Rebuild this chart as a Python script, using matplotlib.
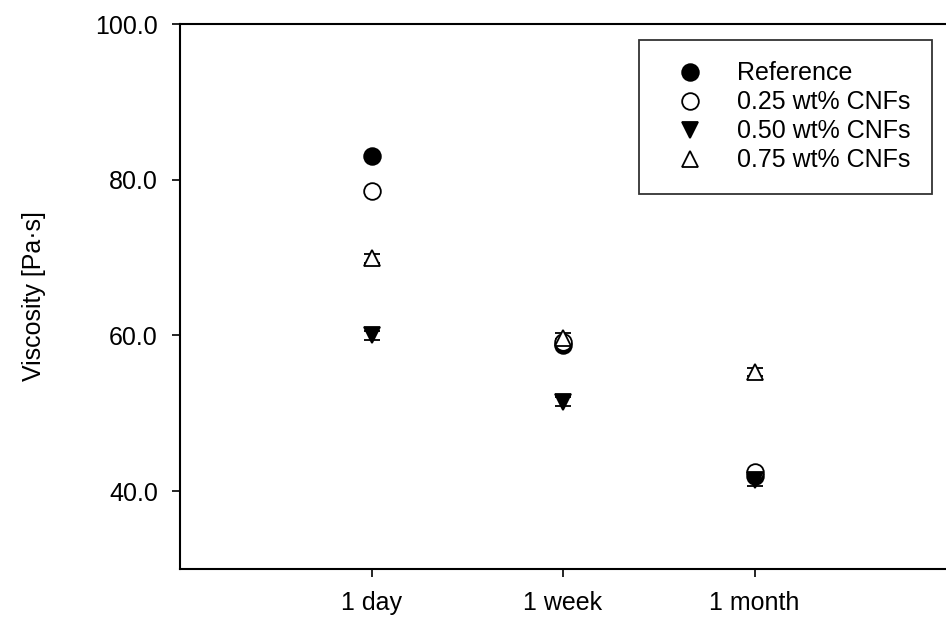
#! /usr/bin/env python3

import matplotlib.pyplot as plt
import numpy as np

plt.rcParams['font.family'] = ['Liberation Sans', 'DejaVu Sans']

times = ['1 day', '1 week', '1 month']
labels = ['Reference', '0.25 wt% CNFs', '0.50 wt% CNFs', '0.75 wt% CNFs']
ref = [83.0, 58.8, 41.9]
cnf025 = [78.6, 59.1, 42.5]
cnf050 = [60.0, 51.5, 41.4]
cnf075 = [69.9, 59.7, 55.3]
err025 = [0.0, 0.5, 0.0]
err050 = [0.6, 0.6, 0.7]
err075 = [0.6, 0.6, 0.5]
err_ref = [0.3, 0.3, 0.3]

x = np.arange(1, len(times) + 1)

fig = plt.figure(figsize=(9.46, 6.17), dpi=100)
ax = fig.add_axes([180 / 946, 48 / 617, 766 / 946, 545 / 617])

styles = [('o', 'k'), ('o', 'w'), ('v', 'k'), ('^', 'w')]
series = [ref, cnf025, cnf050, cnf075]
errs = [err_ref, err025, err050, err075]
for s, e, (m, fc), lab in zip(series, errs, styles, labels):
    ax.errorbar(x, s, yerr=e, fmt=m, mfc=fc, mec='k', mew=1.3, ms=12,
                ecolor='k', elinewidth=1, capsize=6, capthick=1, label=lab)

ax.set_xlim(0, 4)
ax.set_ylim(30, 100)
ax.set_xticks(x)
ax.set_xticklabels(times)
ax.set_yticks([40, 60, 80, 100])
ax.set_yticklabels(['40.0', '60.0', '80.0', '100.0'])
ax.tick_params(labelsize=18, length=6, width=1.2, direction='out')
ax.tick_params(axis='y', pad=10)
ax.tick_params(axis='x', pad=10)
ax.spines['right'].set_visible(False)
for sp in ['left', 'bottom', 'top']:
    ax.spines[sp].set_linewidth(1.5)
ax.set_ylabel('Viscosity [Pa·s]', fontsize=18, labelpad=35)

handles, lbls = ax.get_legend_handles_labels()
handles = [h[0] for h in handles]
leg = ax.legend(handles, lbls, loc='upper right', bbox_to_anchor=(0.982, 0.9706),
                borderaxespad=0, fontsize=18, frameon=True, fancybox=False,
                edgecolor='k', handletextpad=0.7, labelspacing=0.2,
                borderpad=0.85, handlelength=2.4)
leg.get_frame().set_linewidth(1.3)

plt.savefig('out.png', dpi=100)
